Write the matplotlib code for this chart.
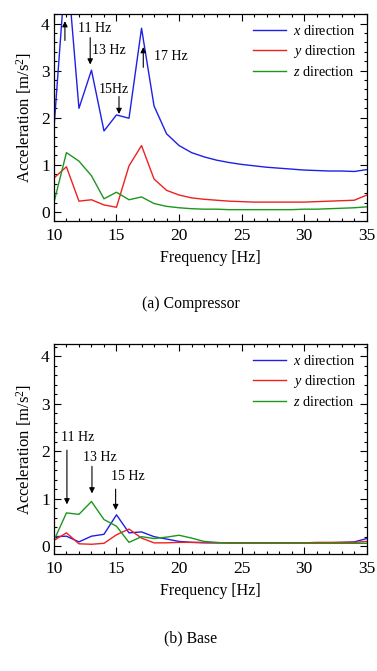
import numpy as np
import matplotlib
matplotlib.use('Agg')
import matplotlib.pyplot as plt
from matplotlib.ticker import MultipleLocator

plt.rcParams['font.family'] = ['Liberation Serif', 'DejaVu Serif']
plt.rcParams['mathtext.fontset'] = 'custom'
plt.rcParams['mathtext.rm'] = 'Liberation Serif'
plt.rcParams['mathtext.it'] = 'Liberation Serif:italic'

freq = np.arange(10, 36)

# (a) Compressor
comp_x = [1.76, 5.40, 2.20, 3.01, 1.72, 2.06, 1.99, 3.90, 2.25, 1.66, 1.41, 1.26,
          1.17, 1.10, 1.05, 1.01, 0.98, 0.95, 0.93, 0.91, 0.89, 0.88, 0.87, 0.87,
          0.86, 0.90]
comp_y = [0.72, 0.96, 0.23, 0.26, 0.15, 0.10, 0.98, 1.41, 0.70, 0.46, 0.36, 0.30,
          0.27, 0.25, 0.23, 0.22, 0.21, 0.21, 0.21, 0.21, 0.21, 0.22, 0.23, 0.24,
          0.25, 0.36]
comp_z = [0.20, 1.26, 1.08, 0.77, 0.28, 0.42, 0.26, 0.32, 0.18, 0.12, 0.09, 0.07,
          0.06, 0.06, 0.05, 0.05, 0.05, 0.05, 0.05, 0.05, 0.06, 0.06, 0.07, 0.08,
          0.09, 0.11]

# (b) Base
base_x = [0.20, 0.21, 0.09, 0.21, 0.25, 0.66, 0.28, 0.30, 0.20, 0.15, 0.10, 0.08,
          0.07, 0.07, 0.07, 0.07, 0.07, 0.07, 0.07, 0.07, 0.07, 0.07, 0.07, 0.08,
          0.09, 0.16]
base_y = [0.12, 0.28, 0.05, 0.04, 0.06, 0.24, 0.36, 0.17, 0.07, 0.07, 0.08, 0.08,
          0.08, 0.07, 0.07, 0.07, 0.07, 0.07, 0.07, 0.07, 0.07, 0.08, 0.08, 0.08,
          0.08, 0.10]
base_z = [0.12, 0.70, 0.67, 0.94, 0.56, 0.42, 0.08, 0.20, 0.16, 0.19, 0.23, 0.17,
          0.10, 0.08, 0.06, 0.06, 0.06, 0.06, 0.06, 0.06, 0.06, 0.06, 0.06, 0.06,
          0.06, 0.06]

labels = ['$x$ direction', '$y$ direction', '$z$ direction']
colors = ['#1f1fe6', '#f02020', '#1e961e']

# (text, text x, text y, arrow x, arrow start y, arrow end y)
comp_notes = [('11 Hz', 11.95, 3.90, 10.88, 3.64, 4.05),
              ('13 Hz', 13.05, 3.43, 12.90, 3.70, 3.13),
              ('15Hz', 13.55, 2.61, 15.20, 2.45, 2.08),
              ('17 Hz', 18.0, 3.31, 17.14, 3.07, 3.50)]
base_notes = [('11 Hz', 10.55, 2.29, 11.04, 2.02, 0.88),
              ('13 Hz', 12.30, 1.86, 13.04, 1.68, 1.11),
              ('15 Hz', 14.60, 1.46, 14.93, 1.20, 0.76)]

fig = plt.figure(figsize=(3.77, 6.71), dpi=100)
ax1 = fig.add_axes([0.143, 0.670, 0.830, 0.309])
ax2 = fig.add_axes([0.143, 0.174, 0.830, 0.313])


def draw(ax, series, notes, ylim, caption):
    for s, c, l in zip(series, colors, labels):
        ax.plot(freq, s, color=c, lw=1.0, label=l)
    ax.set_xlim(10, 35)
    ax.set_ylim(*ylim)
    ax.xaxis.set_major_locator(MultipleLocator(5))
    ax.xaxis.set_minor_locator(MultipleLocator(1))
    ax.yaxis.set_major_locator(MultipleLocator(1))
    ax.yaxis.set_minor_locator(MultipleLocator(0.2))
    ax.tick_params(which='both', direction='in', top=True, right=True,
                   labelsize=12.5, width=0.8)
    ax.tick_params(axis='x', pad=5)
    ax.tick_params(axis='y', pad=3)
    ax.tick_params(which='major', length=5)
    ax.tick_params(which='minor', length=2.5)
    for sp in ax.spines.values():
        sp.set_linewidth(0.9)
    ax.set_xlabel('Frequency [Hz]', fontsize=11.5, labelpad=4)
    ax.set_ylabel('Acceleration [m/s$^2$]', fontsize=12, labelpad=5)
    ax.legend(loc='upper right', frameon=False, fontsize=10.3, handlelength=2.3,
              handletextpad=0.5, labelspacing=0.35, borderaxespad=0.3)
    for txt, tx, ty, ax_x, y0, y1 in notes:
        ax.text(tx, ty, txt, fontsize=10, va='center', ha='left')
        ax.annotate('', xy=(ax_x, y1), xytext=(ax_x, y0),
                    arrowprops=dict(arrowstyle='-|>', lw=0.8, color='k',
                                    mutation_scale=8, shrinkA=0, shrinkB=0))
    ax.text(0.438, -0.40, caption, transform=ax.transAxes, ha='center',
            va='center', fontsize=11.3)


draw(ax1, [comp_x, comp_y, comp_z], comp_notes, (-0.2, 4.2), '(a) Compressor')
draw(ax2, [base_x, base_y, base_z], base_notes, (-0.17, 4.25), '(b) Base')

fig.savefig('out.png', dpi=100)
